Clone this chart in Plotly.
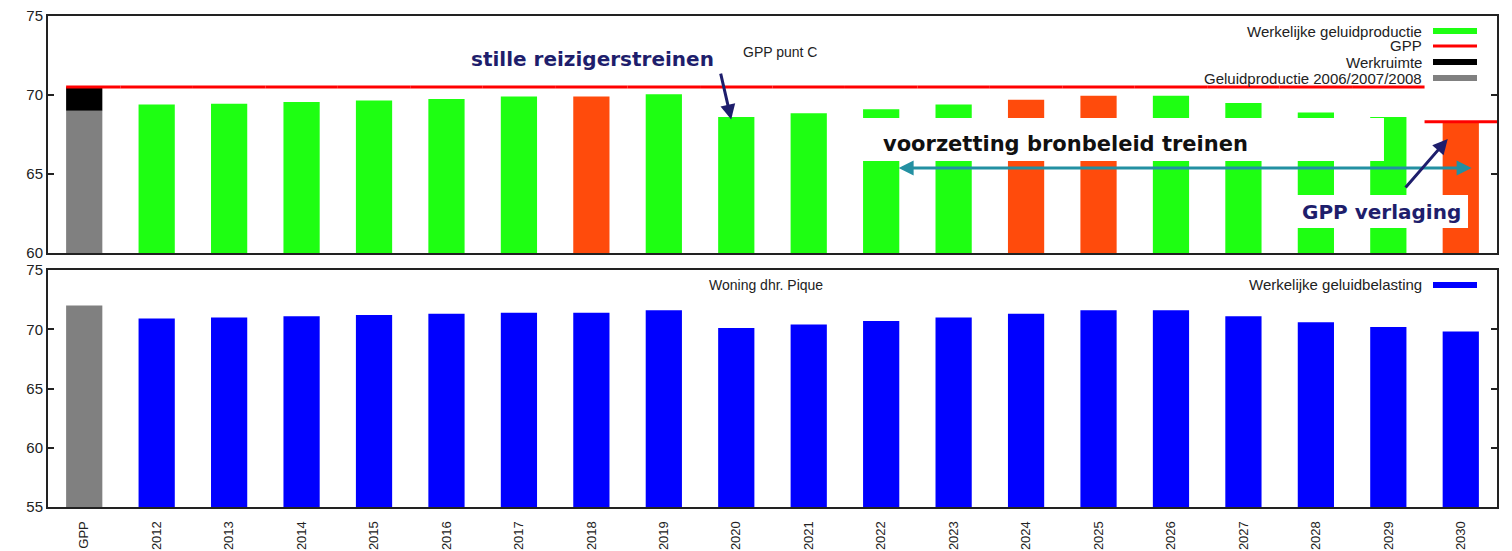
import plotly.graph_objects as go
from plotly.subplots import make_subplots

# ---------------- data ----------------
categories = ["GPP", "2012", "2013", "2014", "2015", "2016", "2017", "2018", "2019", "2020",
              "2021", "2022", "2023", "2024", "2025", "2026", "2027", "2028", "2029", "2030"]
years = categories[1:]

# top panel: noise production (GPP punt C)
production = [69.4, 69.45, 69.55, 69.65, 69.75, 69.9, 69.9, 70.05, 68.6, 68.85,
              69.1, 69.4, 69.7, 69.95, 69.95, 69.5, 68.9, 68.6, 68.3]
highlight_years = ["2018", "2024", "2025", "2030"]
historic_production = 69.0          # Geluidproductie 2006/2007/2008
gpp_limit = [70.5, 70.5, 70.5, 70.5, 70.5, 70.5, 70.5, 70.5, 70.5, 70.5,
             70.5, 70.5, 70.5, 70.5, 70.5, 70.5, 70.5, 70.5, 70.5, 68.3]
workspace = gpp_limit[0] - historic_production   # Werkruimte

# bottom panel: noise load (Woning dhr. Pique)
gpp_load = 72.0
load = [70.9, 71.0, 71.1, 71.2, 71.3, 71.4, 71.4, 71.6, 70.1, 70.4,
        70.7, 71.0, 71.3, 71.6, 71.6, 71.1, 70.6, 70.2, 69.8]

top_ticks = [60, 65, 70, 75]
bottom_ticks = [55, 60, 65, 70, 75]

# ---------------- style ----------------
GREEN = "#1eff12"
ORANGE = "#ff4b0c"
BLUE = "#0000ff"
GRAY = "#808080"
BLACK = "#000000"
RED = "#ff0000"
NAVY = "#1e1e6c"
TEAL = "#2390a2"
TXT = "#222222"
BAR_W = 0.5

OFF = 8  # page body margin
PLOT_L, PLOT_R, PLOT_T, PLOT_B = 48, 1497, 16, 507   # target plot area on the page
W, H = 1512 - OFF, 551 - OFF
ML, MT = PLOT_L - OFF, PLOT_T - OFF
MR, MB = W - (PLOT_R - OFF), H - (PLOT_B - OFF)
PW, PH = PLOT_R - PLOT_L, PLOT_B - PLOT_T


def px_x(px):
    return (px - PLOT_L) / PW


def px_y(py):
    return (PLOT_B - py) / PH


idx = list(range(len(categories)))
year_idx = idx[1:]

fig = make_subplots(rows=2, cols=1, shared_xaxes=True, vertical_spacing=17 / PH)

# --- top panel bars ---
fig.add_trace(go.Bar(x=[0], y=[historic_production], width=BAR_W, marker_color=GRAY,
                     marker_line_width=0, name="Geluidproductie 2006/2007/2008",
                     showlegend=False), row=1, col=1)
fig.add_trace(go.Bar(x=[0], y=[workspace], base=[historic_production], width=BAR_W,
                     marker_color=BLACK, marker_line_width=0, name="Werkruimte",
                     showlegend=False), row=1, col=1)
fig.add_trace(go.Bar(x=year_idx, y=production, width=BAR_W,
                     marker_color=[ORANGE if y in highlight_years else GREEN for y in years],
                     marker_line_width=0, name="Werkelijke geluidproductie",
                     showlegend=False), row=1, col=1)

# GPP limit as horizontal segments per category
lx, ly = [], []
for i, v in enumerate(gpp_limit):
    left = i - BAR_W / 2 if i == 0 else i - 0.5
    lx += [left, i + 0.5, None]
    ly += [v, v, None]
fig.add_trace(go.Scatter(x=lx, y=ly, mode="lines", line=dict(color=RED, width=3),
                         name="GPP", showlegend=False, hoverinfo="skip"), row=1, col=1)

# --- bottom panel bars ---
fig.add_trace(go.Bar(x=[0], y=[gpp_load], width=BAR_W, marker_color=GRAY,
                     marker_line_width=0, showlegend=False), row=2, col=1)
fig.add_trace(go.Bar(x=year_idx, y=load, width=BAR_W, marker_color=BLUE,
                     marker_line_width=0, name="Werkelijke geluidbelasting",
                     showlegend=False), row=2, col=1)

axis_common = dict(showline=True, linecolor="#222222", linewidth=2, mirror="ticks",
                   showgrid=False, zeroline=False, automargin=False)

fig.update_xaxes(range=[-0.5, 19.5], tickmode="array", tickvals=idx, ticktext=categories,
                 tickangle=-90, ticks="", **axis_common)
fig.update_xaxes(showticklabels=False, row=1, col=1)
fig.update_xaxes(ticklabelstandoff=7, tickfont=dict(size=13), row=2, col=1)
fig.update_yaxes(ticks="inside", ticklen=6, tickwidth=1.5, tickcolor="#222222",
                 tickfont=dict(size=15), tickmode="array", ticklabeloverflow="allow",
                 **axis_common)
fig.update_yaxes(range=[60, 75], tickvals=top_ticks, row=1, col=1)
fig.update_yaxes(range=[55, 75], tickvals=bottom_ticks, row=2, col=1)

shapes = []
annotations = []

# --- panel titles ---
annotations.append(dict(xref="paper", yref="paper", x=px_x(780), y=px_y(42), text="GPP punt C",
                        showarrow=False, font=dict(size=14, color=TXT)))
annotations.append(dict(xref="paper", yref="paper", x=px_x(766), y=px_y(285),
                        text="Woning dhr. Pique", showarrow=False, font=dict(size=14, color=TXT)))

# --- key (gnuplot style: text right, swatch at right) ---
key_items = [
    ("Werkelijke geluidproductie", GREEN, 31, 6),
    ("GPP", RED, 46, 3),
    ("Werkruimte", BLACK, 62, 6),
    ("Geluidproductie 2006/2007/2008", GRAY, 78, 6),
    ("Werkelijke geluidbelasting", BLUE, 285, 6),
]
for label, color, ypx, thick in key_items:
    annotations.append(dict(xref="paper", yref="paper", x=px_x(1424), y=px_y(ypx), text=label,
                            xanchor="right", yanchor="middle", showarrow=False,
                            font=dict(size=15, color=TXT)))
    shapes.append(dict(type="rect", xref="paper", yref="paper", x0=px_x(1433), x1=px_x(1477),
                       y0=px_y(ypx + thick / 2), y1=px_y(ypx - thick / 2),
                       fillcolor=color, line=dict(width=0), layer="above"))

# --- white boxes ---
shapes.append(dict(type="rect", xref="x", yref="y", x0=10.74, x1=17.94, y0=65.82, y1=68.54,
                   fillcolor="white", line=dict(width=0), layer="above"))
shapes.append(dict(type="rect", xref="x", yref="y", x0=16.64, x1=19.1, y0=61.58, y1=63.67,
                   fillcolor="white", line=dict(width=0), layer="above"))

# --- callouts ---
annotations.append(dict(xref="x", yref="y", x=7.01, y=72.28, text="<b>stille reizigerstreinen</b>",
                        showarrow=False, font=dict(family="DejaVu Sans", size=20, color=NAVY)))
annotations.append(dict(xref="x", yref="y", x=8.93, y=68.45, axref="x", ayref="y",
                        ax=8.78, ay=71.45, text="", showarrow=True, arrowhead=2, arrowsize=1,
                        arrowwidth=3, arrowcolor=NAVY, standoff=0))

annotations.append(dict(xref="x", yref="y", x=11.0, y=66.9,
                        text="<b>voorzetting bronbeleid treinen</b>", xanchor="left",
                        yanchor="middle", showarrow=False,
                        font=dict(family="DejaVu Sans", size=21, color="#111111")))
annotations.append(dict(xref="x", yref="y", x=19.15, y=65.38, axref="x", ayref="y",
                        ax=11.22, ay=65.38, text="", showarrow=True, arrowhead=2,
                        startarrowhead=2, arrowside="end+start", arrowsize=1, startarrowsize=1,
                        arrowwidth=3, arrowcolor=TEAL, standoff=0, startstandoff=0))

annotations.append(dict(xref="x", yref="y", x=17.91, y=62.6, text="<b>GPP verlaging</b>",
                        showarrow=False, font=dict(family="DejaVu Sans", size=20, color=NAVY)))
annotations.append(dict(xref="x", yref="y", x=18.82, y=67.22, axref="x", ayref="y",
                        ax=18.22, ay=64.05, text="", showarrow=True, arrowhead=2, arrowsize=1,
                        arrowwidth=3, arrowcolor=NAVY, standoff=0))

fig.update_layout(
    width=W, height=H,
    margin=dict(l=ML, r=MR, t=MT, b=MB, pad=0),
    paper_bgcolor="white", plot_bgcolor="white",
    barmode="overlay",
    showlegend=False,
    font=dict(family="Liberation Sans, Arial, sans-serif", size=14, color=TXT),
    shapes=shapes,
    annotations=annotations,
)

fig.write_html("out.html")
